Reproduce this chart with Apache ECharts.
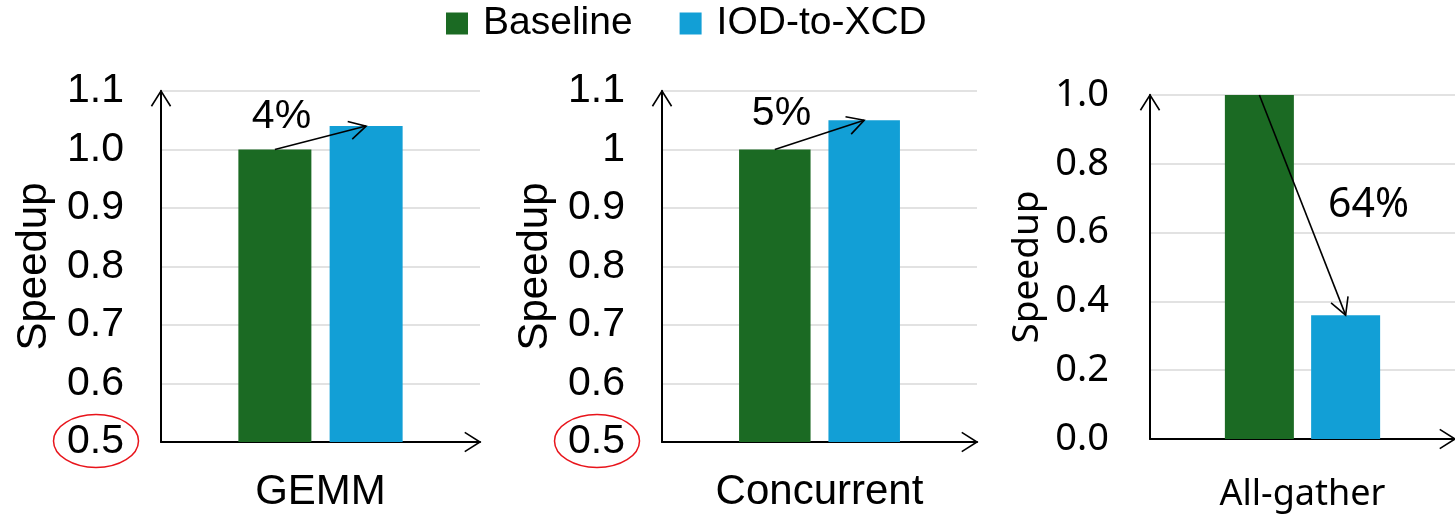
<!DOCTYPE html>
<html>
<head>
<meta charset="utf-8">
<script src="https://cdn.jsdelivr.net/npm/echarts@6/dist/echarts.min.js"></script>
<style>
  html, body { margin: 0; padding: 0; background: #ffffff; }
  #chart { width: 1455px; height: 514px; }
</style>
</head>
<body>
<div id="chart"></div>
<script>
// Speedup of the IOD-to-XCD path against the baseline, per workload
const seriesNames = ['Baseline', 'IOD-to-XCD'];
const panelCategories = [['GEMM'], ['Concurrent'], ['All-gather']];
const baselineValues = [1.0, 1.0, 1.0];
const iodToXcdValues = [1.04, 1.05, 0.36];
const changeLabels = ['4%', '5%', '64%'];

// y-axis scales and their tick labels
const yMin = [0.5, 0.5, 0.0];
const yMax = [1.1, 1.1, 1.0];
const yStep = [0.1, 0.1, 0.2];
const yTicksGemm = ['0.5', '0.6', '0.7', '0.8', '0.9', '1.0', '1.1'];
const yTicksConcurrent = ['0.5', '0.6', '0.7', '0.8', '0.9', '1', '1.1'];
const yTicksAllGather = ['0.0', '0.2', '0.4', '0.6', '0.8', '1.0'];
const yTickLabels = [yTicksGemm, yTicksConcurrent, yTicksAllGather];

const colors = ['#1b6a23', '#129fd6'];

// layout and type settings for each of the three panels
const panels = [
  { left: 161, top: 91, width: 319, height: 351, font: '"Liberation Sans", Arial, sans-serif',
    tickSize: 41, nameSize: 42, catSize: 42, nameGap: 106, tickMargin: 37, catMargin: 29,
    barWidth: 73, circleMin: true, textOffset: [-39, -21], textSize: 41 },
  { left: 662, top: 91, width: 315, height: 351, font: '"Liberation Sans", Arial, sans-serif',
    tickSize: 41, nameSize: 42, catSize: 42, nameGap: 106, tickMargin: 37, catMargin: 29,
    barWidth: 71.5, circleMin: true, textOffset: [-38, -21], textSize: 41 },
  { left: 1150, top: 95, width: 305, height: 344, font: '"Noto Sans", sans-serif',
    tickSize: 38, nameSize: 37, catSize: 36, nameGap: 104, tickMargin: 41, catMargin: 38,
    barWidth: 69, circleMin: false, textOffset: [66, 0], textSize: 41 }
];
const barGapRatio = 0.25;

// open chevron arrowhead at `tip`, pointing along (dx, dy)
function chevron(tip, dx, dy, len, half) {
  const a = Math.atan2(dy, dx);
  const p1 = [tip[0] - len * Math.cos(a - half), tip[1] - len * Math.sin(a - half)];
  const p2 = [tip[0] - len * Math.cos(a + half), tip[1] - len * Math.sin(a + half)];
  return {
    type: 'polyline',
    shape: { points: [p1, tip, p2] },
    style: { stroke: '#000', lineWidth: 1.6, fill: null }
  };
}

function makeRenderItem(i) {
  const p = panels[i];
  return function (params, api) {
    const cs = params.coordSys;
    const off = p.barWidth * (1 + barGapRatio) / 2;
    const a = api.coord([api.value(0), api.value(1)]);
    const b = api.coord([api.value(0), api.value(2)]);
    const start = [a[0] - off, a[1]];
    const end = [b[0] + off, b[1]];
    const children = [];
    // axis arrowheads
    children.push(chevron([cs.x, cs.y], 0, -1, 18, 0.56));
    children.push(chevron([cs.x + cs.width, cs.y + cs.height], 1, 0, 18, 0.56));
    // change arrow between the two bars
    children.push({
      type: 'line',
      shape: { x1: start[0], y1: start[1], x2: end[0], y2: end[1] },
      style: { stroke: '#000', lineWidth: 1.6 }
    });
    children.push(chevron(end, end[0] - start[0], end[1] - start[1], 19, 0.5));
    const mid = [(start[0] + end[0]) / 2, (start[1] + end[1]) / 2];
    children.push({
      type: 'text',
      style: {
        text: changeLabels[i],
        x: mid[0] + p.textOffset[0], y: mid[1] + p.textOffset[1],
        fill: '#000', font: p.textSize + 'px ' + p.font,
        align: 'center', verticalAlign: 'middle'
      }
    });
    // red ring around the axis minimum
    if (p.circleMin) {
      const m = api.coord([api.value(0), yMin[i]]);
      children.push({
        type: 'ellipse',
        shape: { cx: cs.x - 65, cy: m[1] - 1, rx: 42.5, ry: 26.5 },
        style: { stroke: '#e8141b', lineWidth: 1.5, fill: null }
      });
    }
    return { type: 'group', children: children };
  };
}

const grids = [], xAxes = [], yAxes = [], series = [];
panels.forEach(function (p, i) {
  grids.push({ left: p.left, top: p.top, width: p.width, height: p.height });
  xAxes.push({
    type: 'category', gridIndex: i, data: panelCategories[i],
    axisLine: { show: true, lineStyle: { color: '#000', width: 2 } },
    axisTick: { show: false },
    axisLabel: { margin: p.catMargin, color: '#000', fontSize: p.catSize, fontFamily: p.font }
  });
  yAxes.push({
    type: 'value', gridIndex: i, min: yMin[i], max: yMax[i], interval: yStep[i],
    name: 'Speedup', nameLocation: 'middle', nameRotate: 90, nameGap: p.nameGap,
    nameTextStyle: { color: '#000', fontSize: p.nameSize, fontFamily: p.font },
    axisLine: { show: true, lineStyle: { color: '#000', width: 2 } },
    axisTick: { show: false },
    splitLine: { show: true, lineStyle: { color: '#d9d9d9', width: 1.5 } },
    axisLabel: {
      margin: p.tickMargin, color: '#000', fontSize: p.tickSize, fontFamily: p.font,
      formatter: function (v) {
        const k = Math.round((v - yMin[i]) / yStep[i]);
        return yTickLabels[i][k];
      }
    }
  });
  series.push({
    type: 'bar', name: seriesNames[0], xAxisIndex: i, yAxisIndex: i,
    data: [baselineValues[i]], barWidth: p.barWidth, barGap: (barGapRatio * 100) + '%',
    itemStyle: { color: colors[0] }
  });
  series.push({
    type: 'bar', name: seriesNames[1], xAxisIndex: i, yAxisIndex: i,
    data: [iodToXcdValues[i]], barWidth: p.barWidth,
    itemStyle: { color: colors[1] }
  });
  series.push({
    type: 'custom', xAxisIndex: i, yAxisIndex: i, clip: false, z: 5,
    data: [[0, baselineValues[i], iodToXcdValues[i]]],
    encode: { x: 0, y: [1, 2] },
    renderItem: makeRenderItem(i),
    silent: true
  });
});

const chart = echarts.init(document.getElementById('chart'), null, { renderer: 'canvas' });
chart.setOption({
  animation: false,
  backgroundColor: '#ffffff',
  legend: {
    data: seriesNames, top: 4, left: 446, padding: 0, icon: 'rect',
    itemWidth: 22, itemHeight: 22, itemGap: 47,
    textStyle: { color: '#000', fontSize: 39, fontFamily: '"Liberation Sans", Arial, sans-serif', padding: [0, 0, 9, 10] }
  },
  grid: grids,
  xAxis: xAxes,
  yAxis: yAxes,
  series: series
});
</script>
</body>
</html>
